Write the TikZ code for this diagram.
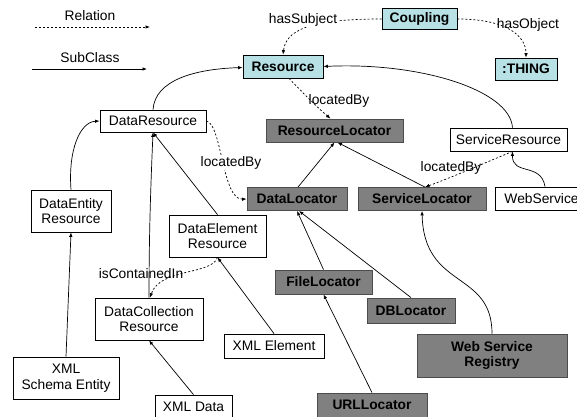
\documentclass[tikz,border=0pt]{standalone}
\usepackage{fontspec}
\setmainfont{Liberation Sans}
\usetikzlibrary{arrows.meta}
\definecolor{boxcyan}{RGB}{183,225,228}
\definecolor{boxgray}{RGB}{128,128,128}
\begin{document}
\begin{tikzpicture}[x=1pt,y=-1pt,
  font=\fontsize{13.8}{15.5}\selectfont,
  box/.style={draw=black, line width=0.8pt, fill=white, inner sep=0pt, align=center, minimum width=#1},
  box/.default=80pt,
  cyanbox/.style={box=#1, fill=boxcyan, font=\fontsize{13.8}{15.5}\selectfont\bfseries},
  graybox/.style={box=#1, fill=boxgray, draw=black!70, font=\fontsize{13.8}{15.5}\selectfont\bfseries},
  lbl/.style={inner sep=1pt},
  sub/.style={line width=0.7pt, -{Latex[length=4.5pt,width=3.5pt]}},
  rel/.style={line width=0.7pt, dash pattern=on 2pt off 2pt, -{Latex[length=4.5pt,width=3.5pt]}}
]
\clip (0,0) rectangle (577,416);
\useasboundingbox (0,0) rectangle (577,416);
\fill[white] (0,0) rectangle (577,416);

% legend
\node (relL) at (90,16) {Relation};
\coordinate (relA) at (35,27);
\coordinate (relB) at (150,27);
\draw[rel] (relA) -- (relB);
\node (subL) at (90,58) {SubClass};
\coordinate (subA) at (32,69);
\coordinate (subB) at (147,69);
\draw[sub] (subA) -- (subB);

% nodes
\node[cyanbox=75pt, minimum height=21pt] (coupling) at (419.5,19) {Coupling};
\node[cyanbox=80pt, minimum height=23pt] (resource) at (283,66.5) {Resource};
\node[cyanbox=62pt, minimum height=22pt] (thing) at (526,69) {:THING};
\node[graybox=137pt, minimum height=23pt] (resloc) at (334.5,130.5) {ResourceLocator};
\node[box=117pt, minimum height=23pt] (servres) at (508.5,139.5) {ServiceResource};
\node[box=106pt, minimum height=22pt] (datares) at (153,121) {DataResource};
\node[graybox=100pt, minimum height=23pt] (dataloc) at (297,199) {DataLocator};
\node[graybox=128pt, minimum height=23pt] (servloc) at (422,199) {ServiceLocator};
\node[box=100pt, minimum height=23pt] (websvc) at (545,198.5) {WebService\hphantom{s}};
\node[box=80pt, minimum height=42pt] (dataent) at (71,211) {DataEntity\\Resource};
\node[box=97pt, minimum height=42pt] (dataelem) at (217.5,236) {DataElement\\Resource};
\node[box=108pt, minimum height=42pt] (datacoll) at (149,319) {DataCollection\\Resource};
\node[box=106pt, minimum height=42pt] (xmlschema) at (66,378) {XML\\Schema Entity};
\node[box=77pt, minimum height=24pt] (xmldata) at (193.5,407) {XML Data};
\node[box=100pt, minimum height=24pt] (xmlelem) at (274,346) {XML Element};
\node[graybox=97pt, minimum height=24pt] (fileloc) at (323.5,282) {FileLocator};
\node[graybox=88pt, minimum height=25pt] (dbloc) at (411,310.5) {DBLocator};
\node[graybox=150pt, minimum height=43pt] (wsreg) at (492,355.5) {Web Service\\Registry};
\node[graybox=110pt, minimum height=24pt] (urlloc) at (372,405) {URLLocator};

% relations
\draw[rel] (coupling.west) .. controls (310,19) and (286,30) .. (resource.north);
\node[lbl, fill=white] (hassubj) at (303,20) {hasSubject};
\draw[rel] (coupling.east) .. controls (505,19) and (526,35) .. (thing.north);
\node[lbl] (hasobj) at (528,25) {hasObject};
\draw[rel] ([xshift=6pt]resource.south) .. controls (305,95) and (318,108) .. ([xshift=-4pt]resloc.north);
\node[lbl] (lb1) at (339,101) {locatedBy};
\draw[rel] (datares.east) .. controls (222,124) and (222,200) .. (dataloc.west);
\node[lbl, fill=white] (lb2) at (231,163) {locatedBy};
\draw[rel] ([xshift=4pt]servres.south) .. controls (480,165) and (450,178) .. ([xshift=3pt]servloc.north);
\node[lbl] (lb3) at (451,168) {locatedBy};
\draw[rel] (dataelem.south) .. controls (212,275) and (160,268) .. ([xshift=1pt]datacoll.north);
\node[lbl] (lb4) at (141,274) {isContainedIn};

% subclass
\draw[sub] ([xshift=4pt]servres.north) .. controls (510,90) and (420,62) .. (resource.east);
\draw[sub] (datares.north) .. controls (155,80) and (195,69) .. ([yshift=-1pt]resource.west);
\draw[sub] (dataent.north) .. controls (68,150) and (80,122) .. (datares.west);
\draw[sub] (dataelem.north) -- (datares.south);
\draw[sub] (datacoll.north) .. controls (149,230) and (151,180) .. (datares.south);
\draw[sub] (xmlschema.north) -- (dataent.south);
\draw[sub] (xmldata.north) -- (datacoll.south);
\draw[sub] (xmlelem.north) -- (dataelem.south);
\draw[sub] ([xshift=1pt]dataloc.north) -- (resloc.south);
\draw[sub] ([xshift=3pt]servloc.north) -- ([xshift=3pt]resloc.south);
\draw[sub] (websvc.north) .. controls (541,162) and (512,176) .. ([xshift=4pt]servres.south);
\draw[sub] (fileloc.north) -- (dataloc.south);
\draw[sub] (dbloc.north) -- ([xshift=2pt]dataloc.south);
\draw[sub] (urlloc.north) -- (fileloc.south);
\draw[sub] (wsreg.north) .. controls (492,270) and (424,290) .. (servloc.south);
\end{tikzpicture}
\end{document}
